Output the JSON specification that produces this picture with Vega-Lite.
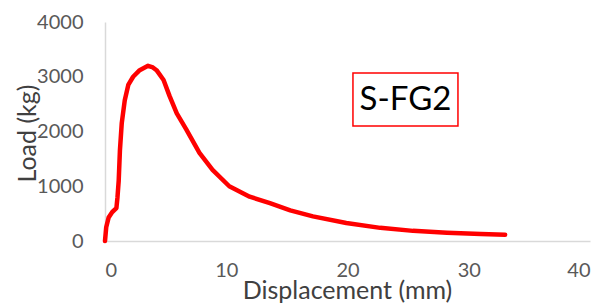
{
  "$schema": "https://vega.github.io/schema/vega-lite/v6.json",
  "autosize": "none",
  "width": 485,
  "height": 219,
  "padding": {"left": 105, "top": 22, "right": 14, "bottom": 63},
  "background": "white",
  "config": {"view": {"stroke": null}, "font": "Lato"},
  "datasets": {
    "curve": [
      {"d": 0, "load": 0}, {"d": 0.1, "load": 250}, {"d": 0.3, "load": 430}, {"d": 0.6, "load": 530},
      {"d": 0.94, "load": 600}, {"d": 1.03, "load": 800}, {"d": 1.13, "load": 1100}, {"d": 1.23, "load": 1650},
      {"d": 1.38, "load": 2150}, {"d": 1.63, "load": 2570}, {"d": 1.92, "load": 2850}, {"d": 2.32, "load": 3000},
      {"d": 2.86, "load": 3120}, {"d": 3.55, "load": 3200}, {"d": 3.95, "load": 3170}, {"d": 4.25, "load": 3120},
      {"d": 4.83, "load": 2940}, {"d": 5.32, "load": 2650}, {"d": 5.92, "load": 2330}, {"d": 6.7, "load": 2040},
      {"d": 7.79, "load": 1610}, {"d": 8.87, "load": 1300}, {"d": 10.25, "load": 1000}, {"d": 11.93, "load": 810},
      {"d": 13.6, "load": 690}, {"d": 15.28, "load": 560}, {"d": 17.15, "load": 450}, {"d": 19.9, "load": 330},
      {"d": 22.7, "load": 240}, {"d": 25.4, "load": 185}, {"d": 28.2, "load": 150}, {"d": 31.0, "load": 128},
      {"d": 33.0, "load": 115}
    ],
    "box": [{"x1": 20.45, "x2": 29.11, "y1": 2100, "y2": 3068, "xc": 24.78, "yc": 2584, "label": "S-FG2"}]
  },
  "layer": [
    {
      "data": {"name": "curve"},
      "mark": {"type": "line", "color": "#FF0000", "strokeWidth": 4.5, "strokeCap": "round", "strokeJoin": "round"},
      "encoding": {
        "x": {
          "field": "d", "type": "quantitative",
          "scale": {"domain": [0, 40], "nice": false},
          "axis": {
            "values": [0, 10, 20, 30, 40], "format": "d", "grid": false, "ticks": false,
            "domainColor": "#d9d9d9", "domainWidth": 1.5,
            "labelColor": "#595959", "labelFontSize": 20, "labelPadding": 19,
            "title": "Displacement (mm)", "titleColor": "#404040", "titleFontSize": 25, "titleFontWeight": "normal",
            "titleX": 242, "titleY": 49, "titleBaseline": "middle", "titleAlign": "center"
          }
        },
        "y": {
          "field": "load", "type": "quantitative",
          "scale": {"domain": [0, 4000], "nice": false},
          "axis": {
            "values": [0, 1000, 2000, 3000, 4000], "format": "d", "grid": false, "ticks": false,
            "domainColor": "#d9d9d9", "domainWidth": 1.5,
            "labelColor": "#595959", "labelFontSize": 20, "labelPadding": 22,
            "title": "Load (kg)", "titleColor": "#404040", "titleFontSize": 25, "titleFontWeight": "normal",
            "titleX": -78, "titleY": 111, "titleAngle": 270, "titleBaseline": "middle", "titleAlign": "center"
          }
        }
      }
    },
    {
      "data": {"name": "box"},
      "mark": {"type": "rect", "fill": "white", "stroke": "#FF0000", "strokeWidth": 1.5},
      "encoding": {
        "x": {"field": "x1", "type": "quantitative"},
        "x2": {"field": "x2"},
        "y": {"field": "y1", "type": "quantitative"},
        "y2": {"field": "y2"}
      }
    },
    {
      "data": {"name": "box"},
      "mark": {"type": "text", "font": "Lato", "fontSize": 33, "color": "black", "align": "center", "baseline": "middle"},
      "encoding": {
        "x": {"field": "xc", "type": "quantitative"},
        "y": {"field": "yc", "type": "quantitative"},
        "text": {"field": "label"}
      }
    }
  ]
}
